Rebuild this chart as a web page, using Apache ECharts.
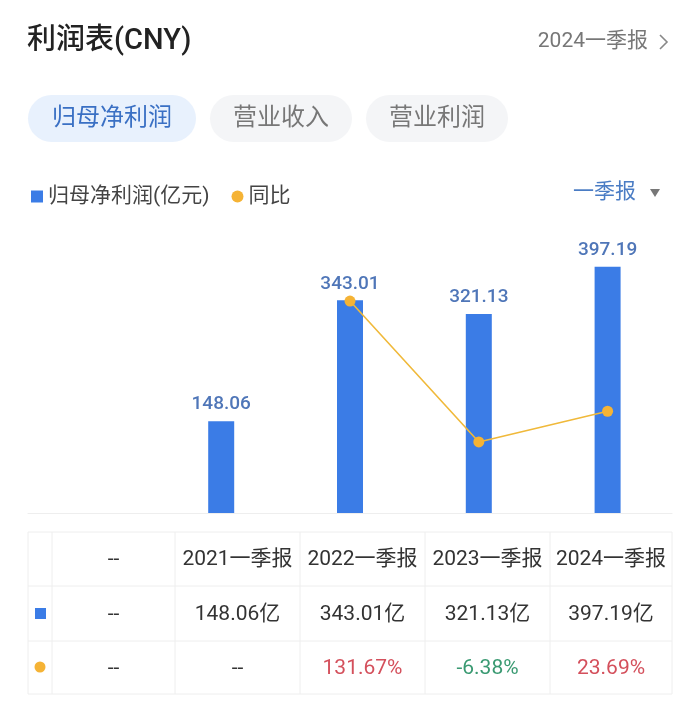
<!DOCTYPE html>
<html>
<head>
<meta charset="utf-8">
<script src="https://cdn.jsdelivr.net/npm/echarts@6/dist/echarts.min.js"></script>
<style>
html,body{margin:0;padding:0;background:#fff;}
#chart{width:700px;height:716px;}
</style>
</head>
<body>
<div id="chart"></div>
<script>
// ---- data ----
const categories = ['--', '2021一季报', '2022一季报', '2023一季报', '2024一季报'];
const profitValues = [null, 148.06, 343.01, 321.13, 397.19];   // 归母净利润(亿元)
const yoyValues = [null, null, 131.67, -6.38, 23.69];          // 同比 %
const tabs = ['归母净利润', '营业收入', '营业利润'];
const barName = '归母净利润(亿元)';
const lineName = '同比';

const FONT = "Roboto, 'Noto Sans CJK SC', sans-serif";
const BLUE = '#3b7ce6';
const ORANGE = '#f5b335';

// ---- table layout ----
const colX = [28, 52, 175, 300, 425, 550, 672];
const rowY = [532, 586, 641, 694];
const graphics = [];

// header
graphics.push({type:'text', style:{text:'利润表(CNY)', x:27, y:42, verticalAlign:'middle', fill:'#222', font:"500 29px " + FONT}});
graphics.push({type:'text', style:{text:'2024一季报', x:648, y:42, align:'right', verticalAlign:'middle', fill:'#777', font:"21px " + FONT}});
graphics.push({type:'polyline', shape:{points:[[660,35],[667,42],[660,49]]}, style:{stroke:'#888', lineWidth:1.6, fill:null}});

// tabs
const tabX = [[28, 168], [210, 142], [366, 142]];
tabs.forEach((t, i) => {
  const active = i === 0;
  graphics.push({type:'rect', shape:{x:tabX[i][0], y:95, width:tabX[i][1], height:47, r:23.5},
    style:{fill: active ? '#e8f1fd' : '#f4f5f7'}});
  graphics.push({type:'text', style:{text:t, x:tabX[i][0] + tabX[i][1] / 2, y:119, align:'center', verticalAlign:'middle',
    fill: active ? '#3a70c4' : '#777', font:"24px " + FONT}});
});

// period selector
graphics.push({type:'text', style:{text:'一季报', x:636, y:193, align:'right', verticalAlign:'middle', fill:'#4a7cc4', font:"21px " + FONT}});
graphics.push({type:'polygon', shape:{points:[[650,189],[660,189],[655,197]]}, style:{fill:'#777'}});

// table lines
const lineStyle = {stroke:'#eeeeee', lineWidth:1};
rowY.forEach(y => graphics.push({type:'line', shape:{x1:colX[0], y1:y, x2:colX[colX.length - 1], y2:y}, style:lineStyle}));
colX.forEach(x => graphics.push({type:'line', shape:{x1:x, y1:rowY[0], x2:x, y2:rowY[rowY.length - 1]}, style:lineStyle}));

function cellText(text, col, row, color) {
  graphics.push({type:'text', style:{text:text, x:(colX[col] + colX[col + 1]) / 2, y:(rowY[row] + rowY[row + 1]) / 2 + 1,
    align:'center', verticalAlign:'middle', fill:color || '#333', font:"21px " + FONT}});
}
categories.forEach((c, i) => cellText(c, i + 1, 0));
profitValues.forEach((v, i) => cellText(v == null ? '--' : v.toFixed(2) + '亿', i + 1, 1));
yoyValues.forEach((v, i) => cellText(v == null ? '--' : v.toFixed(2) + '%', i + 1, 2,
  v == null ? '#333' : (v >= 0 ? '#d4505c' : '#3a9a72')));
// row markers
graphics.push({type:'rect', shape:{x:35, y:608, width:11, height:11}, style:{fill:BLUE}});
graphics.push({type:'circle', shape:{cx:40, cy:667, r:5.5}, style:{fill:ORANGE}});

const chart = echarts.init(document.getElementById('chart'), null, {renderer:'canvas'});
chart.setOption({
  backgroundColor:'#fff',
  animation:false,
  textStyle:{fontFamily:FONT},
  legend:{
    left:26, top:181, selectedMode:false, itemWidth:12, itemHeight:12, itemGap:22,
    textStyle:{fontSize:21, color:'#444', fontFamily:FONT},
    data:[{name:barName, icon:'rect'}, {name:lineName, icon:'circle'}]
  },
  grid:{left:28, right:28, top:265, bottom:203},
  xAxis:{
    type:'category', data:categories,
    axisLine:{lineStyle:{color:'#eeeeee'}}, axisTick:{show:false}, axisLabel:{show:false}
  },
  yAxis:[
    {type:'value', min:0, max:400, show:false, splitLine:{show:false}},
    {type:'value', min:-76, max:167, show:false, splitLine:{show:false}}
  ],
  series:[
    {
      name:barName, type:'bar', data:profitValues, barWidth:26, itemStyle:{color:BLUE},
      label:{show:true, position:'top', distance:7, color:'#4f76b8', fontSize:19, fontWeight:500, fontFamily:FONT,
        formatter:p => p.value.toFixed(2)}
    },
    {
      name:lineName, type:'line', yAxisIndex:1, data:yoyValues, z:5,
      symbol:'circle', symbolSize:11, showSymbol:true,
      lineStyle:{color:'#f0b93a', width:1.6}, itemStyle:{color:ORANGE}
    }
  ],
  graphic:graphics
});
</script>
</body>
</html>
